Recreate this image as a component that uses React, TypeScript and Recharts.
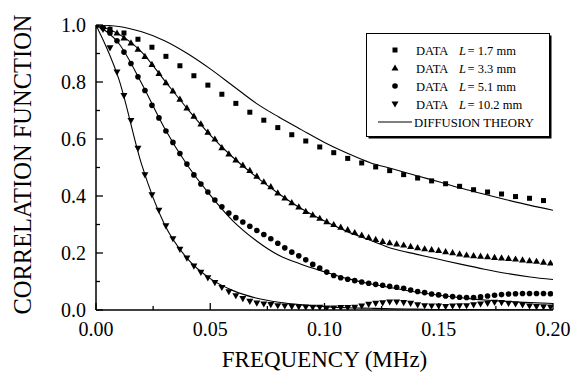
import { ComposedChart, Scatter, Line, XAxis, YAxis, Legend, Label } from "recharts";

const FONT = '"Liberation Serif", "Times New Roman", serif';
const serif = { fontFamily: FONT };

// axis ticks (minor + major)
const xTicks = [0, 0.025, 0.05, 0.075, 0.1, 0.125, 0.15, 0.175, 0.2];
const yTicks = [0, 0.1, 0.2, 0.3, 0.4, 0.5, 0.6, 0.7, 0.8, 0.9, 1.0];

// sampling steps of the measured points (MHz)
const squareStep = 0.00612;
const denseStep = 0.00306;

// DATA L = 1.7 mm
const dataL17 = [
  1.0, 0.985, 0.972, 0.95, 0.922, 0.89, 0.857, 0.822, 0.789, 0.757, 0.725,
  0.694, 0.666, 0.64, 0.615, 0.593, 0.572, 0.552, 0.532, 0.516, 0.502, 0.489,
  0.475, 0.463, 0.453, 0.443, 0.434, 0.422, 0.414, 0.407, 0.398, 0.392, 0.384,
];

// DATA L = 3.3 mm
const dataL33 = [
  1.0, 0.995, 0.985, 0.972, 0.955, 0.937, 0.915, 0.89, 0.862, 0.83, 0.798,
  0.769, 0.74, 0.709, 0.68, 0.653, 0.624, 0.6, 0.57, 0.548, 0.527, 0.508,
  0.49, 0.47, 0.45, 0.433, 0.411, 0.393, 0.377, 0.362, 0.346, 0.334, 0.322,
  0.31, 0.3, 0.291, 0.282, 0.272, 0.263, 0.255, 0.248, 0.241, 0.236, 0.232,
  0.228, 0.223, 0.219, 0.215, 0.212, 0.209, 0.205, 0.201, 0.197, 0.193, 0.191,
  0.189, 0.187, 0.185, 0.183, 0.181, 0.179, 0.176, 0.173, 0.171, 0.168, 0.165,
];

// DATA L = 5.1 mm
const dataL51 = [
  1.0, 0.99, 0.972, 0.945, 0.905, 0.865, 0.818, 0.77, 0.718, 0.674, 0.628,
  0.588, 0.549, 0.512, 0.474, 0.442, 0.414, 0.386, 0.362, 0.34, 0.324, 0.309,
  0.294, 0.279, 0.265, 0.25, 0.234, 0.218, 0.203, 0.19, 0.176, 0.16, 0.147,
  0.133, 0.121, 0.113, 0.108, 0.103, 0.098, 0.094, 0.09, 0.087, 0.083, 0.08,
  0.076, 0.07, 0.065, 0.061, 0.056, 0.053, 0.049, 0.047, 0.045, 0.044, 0.044,
  0.046, 0.049, 0.052, 0.054, 0.056, 0.057, 0.058, 0.058, 0.058, 0.058, 0.057,
];

// DATA L = 10.2 mm
const dataL102 = [
  1.0, 0.985, 0.92, 0.835, 0.752, 0.665, 0.567, 0.474, 0.404, 0.35, 0.295,
  0.25, 0.213, 0.182, 0.154, 0.132, 0.113, 0.096, 0.079, 0.064, 0.05, 0.04,
  0.03, 0.024, 0.021, 0.019, 0.015, 0.014, 0.012, 0.011, 0.01, 0.009, 0.009,
  0.007, 0.007, 0.008, 0.008, 0.009, 0.014, 0.02, 0.023, 0.025, 0.028, 0.028,
  0.026, 0.023, 0.018, 0.015, 0.014, 0.014, 0.012, 0.014, 0.015, 0.015, 0.018,
  0.021, 0.023, 0.027, 0.026, 0.023, 0.021, 0.018, 0.014, 0.012, 0.011, 0.01,
];

// diffusion theory curves
const theoryX = [
  0, 0.01, 0.02, 0.03, 0.04, 0.05, 0.06, 0.07, 0.08, 0.09, 0.1, 0.11, 0.12,
  0.13, 0.14, 0.15, 0.16, 0.17, 0.18, 0.19, 0.2,
];
const theoryL17 = [
  1.0, 0.995, 0.976, 0.945, 0.9, 0.846, 0.786, 0.726, 0.677, 0.632, 0.588,
  0.55, 0.517, 0.495, 0.472, 0.45, 0.427, 0.406, 0.386, 0.367, 0.35,
];
const theoryL33 = [
  1.0, 0.968, 0.905, 0.805, 0.706, 0.614, 0.535, 0.468, 0.408, 0.355, 0.312,
  0.275, 0.245, 0.215, 0.196, 0.178, 0.16, 0.143, 0.128, 0.116, 0.107,
];
const theoryL51 = [
  1.0, 0.935, 0.795, 0.638, 0.508, 0.403, 0.312, 0.244, 0.192, 0.16, 0.134,
  0.11, 0.092, 0.077, 0.063, 0.052, 0.043, 0.035, 0.03, 0.026, 0.023,
];
const theoryL102 = [
  1.0, 0.81, 0.51, 0.3, 0.18, 0.11, 0.068, 0.042, 0.027, 0.018, 0.012, 0.008,
  0.006, 0.004, 0.003, 0.002, 0.002, 0.001, 0.001, 0.001, 0.001,
];

const legendLengths = ["1.7", "3.3", "5.1", "10.2"];

const sampled = (step: number, ys: number[]) =>
  ys.map((y, i) => ({ x: i * step, y }));
const curve = (ys: number[]) => ys.map((y, i) => ({ x: theoryX[i], y }));

type Mark = { cx?: number; cy?: number };

const SquareMark = ({ cx = 0, cy = 0 }: Mark) => (
  <rect x={cx - 2.5} y={cy - 2.5} width={5} height={5} fill="#000" />
);
const UpMark = ({ cx = 0, cy = 0 }: Mark) => (
  <path d={`M${cx},${cy - 3.6}L${cx + 3.5},${cy + 2.6}L${cx - 3.5},${cy + 2.6}Z`} fill="#000" />
);
const DotMark = ({ cx = 0, cy = 0 }: Mark) => <circle cx={cx} cy={cy} r={2.8} fill="#000" />;
const DownMark = ({ cx = 0, cy = 0 }: Mark) => (
  <path d={`M${cx},${cy + 3.6}L${cx + 3.5},${cy - 2.6}L${cx - 3.5},${cy - 2.6}Z`} fill="#000" />
);

const legendMarks = [SquareMark, UpMark, DotMark, DownMark];

const isMajorX = (v: number) => Math.round(v * 1000) % 50 === 0;
const isMajorY = (v: number) => Math.round(v * 10) % 2 === 0;

function BottomTick({ x, y, payload }: any) {
  const major = isMajorX(payload.value);
  return (
    <g>
      <line x1={x} x2={x} y1={y} y2={y - (major ? 7 : 4)} stroke="#000" strokeWidth={1.3} />
      {major && (
        <text className="serif" x={x} y={y + 26} textAnchor="middle" fontSize={20} fill="#000">
          {payload.value.toFixed(2)}
        </text>
      )}
    </g>
  );
}

function TopTick({ x, y, payload }: any) {
  const major = isMajorX(payload.value);
  return <line x1={x} x2={x} y1={y} y2={y + (major ? 7 : 4)} stroke="#000" strokeWidth={1.3} />;
}

function LeftTick({ x, y, payload }: any) {
  const major = isMajorY(payload.value);
  return (
    <g>
      <line x1={x} x2={x + (major ? 7 : 4)} y1={y} y2={y} stroke="#000" strokeWidth={1.3} />
      {major && (
        <text className="serif" x={x - 10} y={y + 7} textAnchor="end" fontSize={20} fill="#000">
          {payload.value.toFixed(1)}
        </text>
      )}
    </g>
  );
}

function RightTick({ x, y, payload }: any) {
  const major = isMajorY(payload.value);
  return <line x1={x} x2={x - (major ? 6 : 4)} y1={y} y2={y} stroke="#000" strokeWidth={1.3} />;
}

function LegendBox() {
  return (
    <svg width={190} height={110} style={{ display: "block" }}>
      <rect x={2.5} y={2.5} width={183} height={103} fill="#000" />
      <rect x={0.5} y={0.5} width={183} height={103} fill="#fff" stroke="#000" strokeWidth={1} />
      {legendLengths.map((len, i) => {
        const M = legendMarks[i];
        const cy = 17 + i * 18;
        return (
          <g key={len}>
            <M cx={29} cy={cy} />
            <text className="serif" x={50} y={cy + 4.5} fontSize={12.5} fill="#000">
              DATA
              <tspan x={93} fontStyle="italic">L</tspan>
              <tspan x={101.5}>{`= ${len} mm`}</tspan>
            </text>
          </g>
        );
      })}
      <line x1={12} x2={46} y1={89} y2={89} stroke="#000" strokeWidth={1.1} />
      <text className="serif" x={48} y={93.5} fontSize={12.7} fill="#000">
        DIFFUSION THEORY
      </text>
    </svg>
  );
}

export default function App() {
  return (
    <div style={{ position: "absolute", left: 0, top: 0, width: 586, height: 381, background: "#fff", ...serif }}>
      <style>{`text.serif, text.serif tspan { font-family: "Liberation Serif", "DejaVu Serif", serif !important; }`}</style>
      <ComposedChart width={586} height={381} margin={{ top: 25, right: 33, bottom: 0, left: 0 }}>
        <XAxis
          type="number"
          dataKey="x"
          domain={[0, 0.2]}
          ticks={xTicks}
          interval={0}
          allowDataOverflow
          height={71}
          tickSize={0}
          tickMargin={0}
          tickLine={false}
          tick={<BottomTick />}
          axisLine={{ stroke: "#000", strokeWidth: 1.5 }}
        >
          <Label
            content={({ viewBox }: any) => (
              <text
                className="serif"
                x={viewBox.x + viewBox.width / 2}
                y={viewBox.y + 57}
                textAnchor="middle"
                fontSize={23}
                fill="#000"
              >
                FREQUENCY (MHz)
              </text>
            )}
          />
        </XAxis>
        <XAxis
          xAxisId="top"
          orientation="top"
          type="number"
          dataKey="x"
          domain={[0, 0.2]}
          ticks={xTicks}
          interval={0}
          allowDataOverflow
          height={0}
          tickSize={0}
          tickMargin={0}
          tickLine={false}
          tick={<TopTick />}
          axisLine={{ stroke: "#000", strokeWidth: 1.5 }}
        />
        <YAxis
          type="number"
          domain={[0, 1]}
          ticks={yTicks}
          interval={0}
          allowDataOverflow
          width={96}
          tickSize={0}
          tickMargin={0}
          tickLine={false}
          tick={<LeftTick />}
          axisLine={{ stroke: "#000", strokeWidth: 1.5 }}
        >
          <Label
            content={({ viewBox }: any) => {
              const cx = viewBox.x + 22;
              const cy = viewBox.y + viewBox.height / 2 - 3;
              return (
                <text
                  className="serif"
                  x={cx}
                  y={cy}
                  transform={`rotate(-90 ${cx} ${cy})`}
                  textAnchor="middle"
                  dominantBaseline="central"
                  fontSize={24.5}
                  fill="#000"
                >
                  CORRELATION FUNCTION
                </text>
              );
            }}
          />
        </YAxis>
        <YAxis
          yAxisId="right"
          orientation="right"
          type="number"
          domain={[0, 1]}
          ticks={yTicks}
          interval={0}
          allowDataOverflow
          width={0}
          tickSize={0}
          tickMargin={0}
          tickLine={false}
          tick={<RightTick />}
          axisLine={{ stroke: "#000", strokeWidth: 1.5 }}
        />
        <Legend
          layout="vertical"
          align="center"
          verticalAlign="middle"
          wrapperStyle={{ left: 366, top: 33, width: 190, height: 110 }}
          content={() => <LegendBox />}
        />
        {[theoryL17, theoryL33, theoryL51, theoryL102].map((ys, i) => (
          <Line
            key={`t${i}`}
            data={curve(ys)}
            dataKey="y"
            type="monotone"
            stroke="#000"
            strokeWidth={1.1}
            dot={false}
            activeDot={false}
            isAnimationActive={false}
          />
        ))}
        <Scatter data={sampled(squareStep, dataL17)} dataKey="y" shape={<SquareMark />} isAnimationActive={false} />
        <Scatter data={sampled(denseStep, dataL33)} dataKey="y" shape={<UpMark />} isAnimationActive={false} />
        <Scatter data={sampled(denseStep, dataL51)} dataKey="y" shape={<DotMark />} isAnimationActive={false} />
        <Scatter data={sampled(denseStep, dataL102)} dataKey="y" shape={<DownMark />} isAnimationActive={false} />
      </ComposedChart>
    </div>
  );
}
